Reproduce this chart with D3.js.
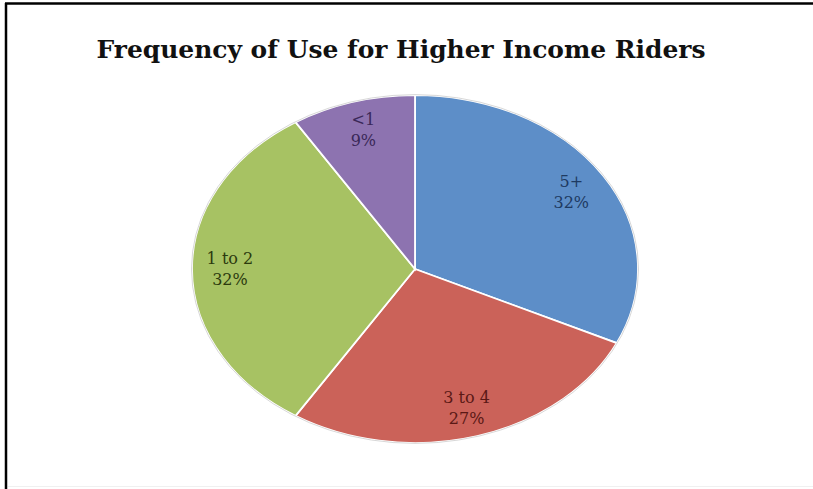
<!DOCTYPE html>
<html><head><meta charset="utf-8">
<script src="https://cdn.jsdelivr.net/npm/d3@7"></script>
<style>html,body{margin:0;padding:0;background:#fff;}svg{display:block;}</style>
</head><body>
<svg id="chart" width="813" height="489"></svg>
<script>
const categories = ["5+", "3 to 4", "1 to 2", "<1"];
const values = [32, 27, 32, 9];
const percentLabels = ["32%", "27%", "32%", "9%"];
const sliceColors = ["#5D8EC8", "#CB6259", "#A7C263", "#8D73B0"];
const labelColors = ["#1E3A62", "#5A1815", "#2C3A0E", "#3A2858"];
const titleText = "Frequency of Use for Higher Income Riders";

const svg = d3.select("#chart");
const W = 813, H = 489;
svg.append("rect").attr("width", W).attr("height", H).attr("fill", "#fff");
// frame
svg.append("line").attr("x1", 5).attr("x2", W).attr("y1", 3.5).attr("y2", 3.5).attr("stroke", "#000").attr("stroke-width", 2.5);
svg.append("line").attr("x1", 6).attr("x2", 6).attr("y1", 3).attr("y2", H).attr("stroke", "#000").attr("stroke-width", 2.5);
svg.append("line").attr("x1", 8).attr("x2", W).attr("y1", 486.5).attr("y2", 486.5).attr("stroke", "#f0f0f0").attr("stroke-width", 1);

svg.append("text").attr("x", 401).attr("y", 58).attr("text-anchor", "middle")
  .attr("font-family", "'DejaVu Serif', 'Liberation Serif', serif").attr("font-weight", "bold")
  .attr("font-size", 25).attr("fill", "#111")
  .attr("textLength", 609).attr("lengthAdjust", "spacingAndGlyphs")
  .text(titleText);

const cx = 415, cy = 269, rx = 223, ry = 174;
const pie = d3.pie().sort(null).value(d => d)(values);
const arc = d3.arc().innerRadius(0).outerRadius(rx);
const g = svg.append("g").attr("transform", `translate(${cx},${cy}) scale(1,${ry/rx})`);
g.selectAll("path").data(pie).join("path")
  .attr("d", arc).attr("fill", (d, i) => sliceColors[i])
  .attr("stroke", "#fff").attr("stroke-width", 1.8).attr("vector-effect", "non-scaling-stroke");
g.append("ellipse").attr("rx", rx + 0.5).attr("ry", rx + 0.5).attr("fill", "none")
  .attr("stroke", "#d8d8d8").attr("stroke-width", 1).attr("vector-effect", "non-scaling-stroke");

const labelArc = d3.arc().innerRadius(rx * 0.83).outerRadius(rx * 0.83);
const lg = svg.append("g");
pie.forEach((d, i) => {
  const c = labelArc.centroid(d);
  const x = cx + c[0], y = cy + c[1] * ry / rx;
  const t = lg.append("text").attr("x", x).attr("text-anchor", "middle")
    .attr("font-family", "'DejaVu Serif', 'Liberation Serif', serif")
    .attr("font-size", 16).attr("fill", labelColors[i]);
  t.append("tspan").attr("x", x).attr("y", y - 5).text(categories[i]);
  t.append("tspan").attr("x", x).attr("y", y + 16).text(percentLabels[i]);
});
</script>
</body></html>
